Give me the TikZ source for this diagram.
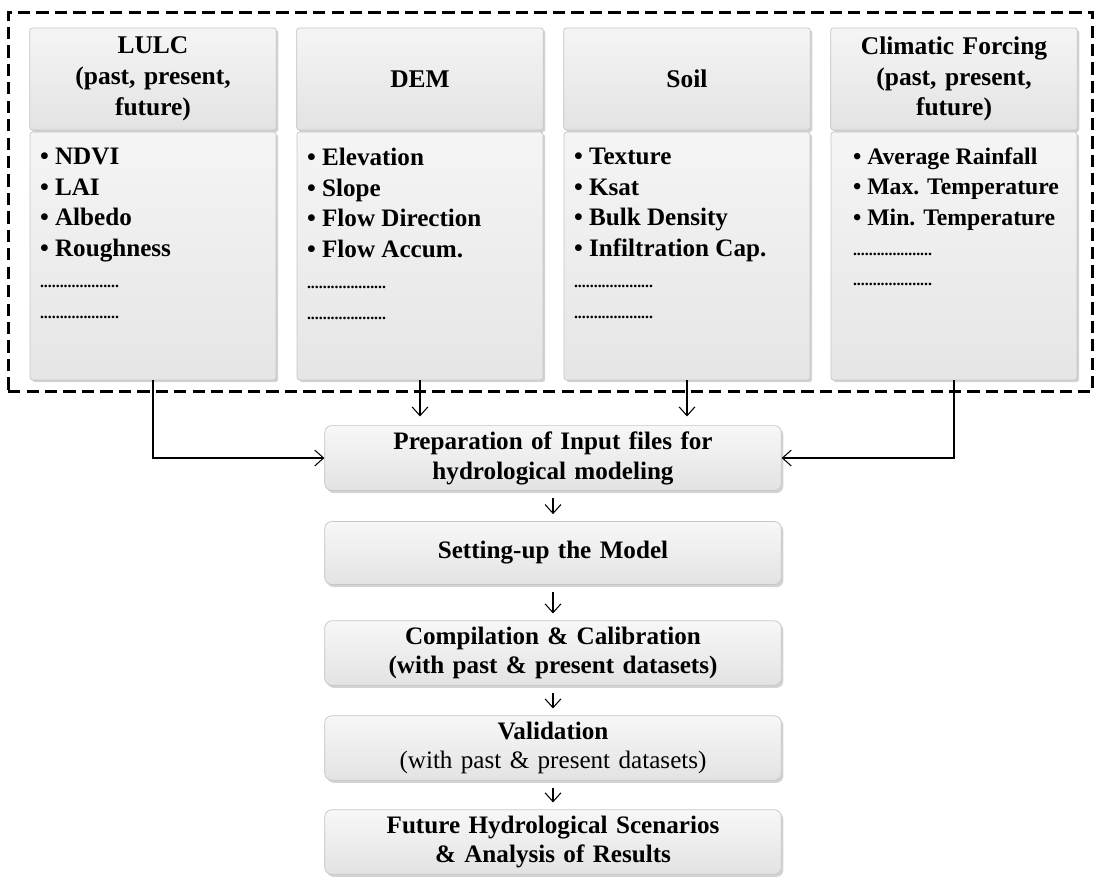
\documentclass[tikz,border=0pt]{standalone}
\usepackage{fontspec}
\setmainfont{Liberation Serif}
\usetikzlibrary{calc, positioning, shadows, arrows.meta}

\tikzset{
  headbox/.style={rectangle, rounded corners=1.5pt, draw=gray!45, top color=gray!8, bottom color=gray!22, drop shadow={shadow xshift=1.2pt, shadow yshift=-1.2pt, opacity=0.35}, minimum width=4.92cm, minimum height=2.04cm, text width=4.7cm, align=center, font=\fontsize{14.5}{17.5}\selectfont\bfseries},
  bodybox/.style={rectangle, rounded corners=1.5pt, draw=gray!45, top color=gray!8, bottom color=gray!20, drop shadow={shadow xshift=1.2pt, shadow yshift=-1.2pt, opacity=0.35}, minimum width=4.92cm, minimum height=4.96cm},
  itemtext/.style={anchor=north west, align=left, inner sep=0pt, font=\fontsize{14.3}{17.5}\selectfont\bfseries},
  flowbox/.style={rectangle, rounded corners=4pt, draw=gray!45, top color=gray!6, bottom color=gray!22, drop shadow={shadow xshift=1.2pt, shadow yshift=-1.5pt, opacity=0.35}, minimum width=9.1cm, minimum height=1.26cm, text width=8.9cm, align=center, font=\fontsize{14.3}{17}\selectfont\bfseries},
  flowarrow/.style={-{Straight Barb[length=5pt,width=9pt]}, line width=0.6pt}
}

\newcommand{\dotline}{\fontsize{9}{10}\selectfont\bfseries ....................}

\begin{document}
\begin{tikzpicture}[x=0.02cm, y=-0.02cm]
    		\useasboundingbox (0,0) rectangle (1098,877);

    		% Input data block
    		\node (InputBox) at (550.5,202) [draw=black, dash pattern=on 7pt off 3.5pt, line width=1.7pt, minimum width=21.7cm, minimum height=7.6cm]{};

    		% LULC
    		\node (LULC-Head) at (153,79) [headbox]{LULC\\(past, present,\\future)};
    		\node (LULC-Body) at ($(LULC-Head)+(0,177)$) [bodybox]{};
    		\node (LULC-Items) at ($(LULC-Body.north west)+(10,16)$) [itemtext]{\textbullet\ NDVI\\\textbullet\ LAI\\\textbullet\ Albedo\\\textbullet\ Roughness\\\dotline\\\dotline};

    		% DEM
    		\node (DEM-Head) at ($(LULC-Head)+(267,0)$) [headbox]{DEM};
    		\node (DEM-Body) at ($(DEM-Head)+(0,177)$) [bodybox]{};
    		\node (DEM-Items) at ($(DEM-Body.north west)+(10,16)$) [itemtext]{\textbullet\ Elevation\\\textbullet\ Slope\\\textbullet\ Flow Direction\\\textbullet\ Flow Accum.\\\dotline\\\dotline};

    		% Soil
    		\node (Soil-Head) at ($(DEM-Head)+(267,0)$) [headbox]{Soil};
    		\node (Soil-Body) at ($(Soil-Head)+(0,177)$) [bodybox]{};
    		\node (Soil-Items) at ($(Soil-Body.north west)+(10,16)$) [itemtext]{\textbullet\ Texture\\\textbullet\ Ksat\\\textbullet\ Bulk Density\\\textbullet\ Infiltration Cap.\\\dotline\\\dotline};

    		% Climatic forcing
    		\node (Climate-Head) at ($(Soil-Head)+(267,0)$) [headbox]{Climatic Forcing\\(past, present,\\future)};
    		\node (Climate-Body) at ($(Climate-Head)+(0,177)$) [bodybox]{};
    		\node (Climate-Items) at ($(Climate-Body.north west)+(22,16)$) [itemtext, font=\fontsize{13.5}{17.2}\selectfont\bfseries]{\textbullet\ Average Rainfall\\\textbullet\ Max. Temperature\\\textbullet\ Min. Temperature\\\dotline\\\dotline};

    		%%%%%%%%%%%%%%%%%%%
    		% Modelling steps
    		\node (Preparation) at (553,458) [flowbox]{Preparation of Input files for\\hydrological modeling};
    		\node (SettingUp) at ($(Preparation)+(0,95)$) [flowbox]{Setting-up the Model};
    		\node (Calibration) at ($(SettingUp)+(0,100)$) [flowbox]{Compilation \& Calibration\\(with past \& present datasets)};
    		\node (Validation) at ($(Calibration)+(0,95)$) [flowbox]{Validation\\\mdseries(with past \& present datasets)};
    		\node (Scenarios) at ($(Validation)+(0,94)$) [flowbox]{Future Hydrological Scenarios\\\& Analysis of Results};

    		%%%%%%%%%%%%%%%%%%%
    		% Inputs to preparation
    		\draw[flowarrow] (LULC-Body.south) |- (Preparation.west);
    		\draw[flowarrow, shorten >=5pt] (DEM-Body.south) -- (DEM-Body.south |- Preparation.north);
    		\draw[flowarrow, shorten >=5pt] (Soil-Body.south) -- (Soil-Body.south |- Preparation.north);
    		\draw[flowarrow] (Climate-Body.south) |- (Preparation.east);

    		% Chain of steps
    		\draw[flowarrow, shorten <=4pt, shorten >=4pt] (Preparation) -- (SettingUp);
    		\draw[flowarrow, shorten <=4pt, shorten >=4pt] (SettingUp) -- (Calibration);
    		\draw[flowarrow, shorten <=4pt, shorten >=4pt] (Calibration) -- (Validation);
    		\draw[flowarrow, shorten <=4pt, shorten >=4pt] (Validation) -- (Scenarios);
\end{tikzpicture}
\end{document}
